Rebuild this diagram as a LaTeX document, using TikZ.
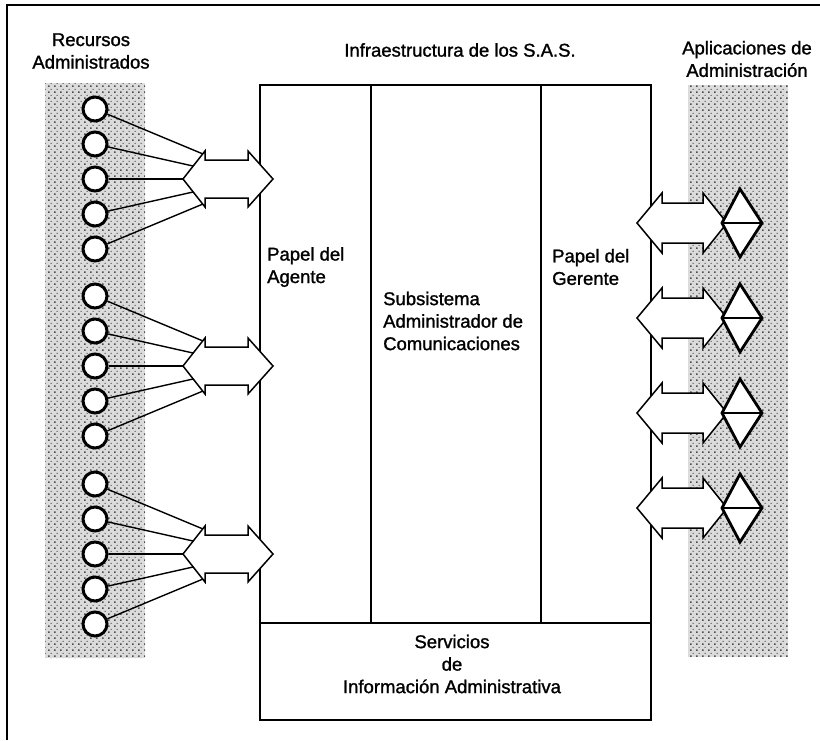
\documentclass[tikz,border=0pt]{standalone}
\usepackage{fontspec}
\setmainfont{Liberation Sans}[FakeBold=1.3]
\usetikzlibrary{patterns.meta}

% coarse dot screen used for the two shaded strips
\tikzdeclarepattern{name=scandots, type=uncolored,
  bottom left={(0pt,0pt)}, top right={(6pt,6pt)}, tile size={(6pt,6pt)},
  code={\fill (0pt,0pt) rectangle (2pt,2pt); \fill (3pt,3.5pt) rectangle (4.2pt,4.7pt);}}

\tikzset{
  frame/.style={line width=2.6pt},
  boxline/.style={line width=1.6pt},
  strip/.style={fill=black!14},
  stripdots/.style={pattern=scandots, pattern color=black!70},
  res/.style={circle, draw, fill=white, line width=3pt, minimum size=24pt, inner sep=0pt},
  link/.style={line width=1.4pt},
  arrowbox/.style={draw, fill=white, line width=1.5pt, line join=miter},
  appbox/.style={draw, fill=white, line width=2.8pt, line join=miter},
  lbl/.style={font=\fontsize{18.5}{22.5}\selectfont, inner sep=0pt},
}

% double-headed block arrow: y, left tip, left head back, right head back, right tip, head half-height, shaft half-height
\newcommand{\blockarrow}[7]{%
  \draw[arrowbox] (#2,#1) -- (#3,#1-#6) -- (#3,#1-#7) -- (#4,#1-#7) -- (#4,#1-#6)
    -- (#5,#1) -- (#4,#1+#6) -- (#4,#1+#7) -- (#3,#1+#7) -- (#3,#1+#6) -- cycle;}

% a group of five managed resources wired to the left head of one arrow
\newcommand{\resgroup}[2]{%
  \blockarrow{#2}{183}{205}{248}{273}{28}{19}
  \coordinate (#1h1) at (203,#2-25);
  \coordinate (#1h2) at (193,#2-13);
  \coordinate (#1h3) at (183,#2);
  \coordinate (#1h4) at (193,#2+13);
  \coordinate (#1h5) at (203,#2+25);
  \foreach \k/\dy in {1/-70,2/-35,3/0,4/35,5/70}{
    \node[res] (#1c\k) at (95,#2+\dy) {};
    \draw[link] (#1c\k) -- (#1h\k);
  }}

% one management application: arrow plus split diamond
\newcommand{\appunit}[2]{%
  \blockarrow{#2}{637}{662}{703}{727}{30}{20}
  \coordinate (#1l) at (722,#2);
  \coordinate (#1t) at (740,#2-34);
  \coordinate (#1r) at (762,#2);
  \coordinate (#1b) at (740,#2+34);
  \draw[appbox] (#1l) -- (#1t) -- (#1r) -- (#1b) -- cycle;
  \draw[line width=2.8pt] (#1l) -- (#1r);}

\begin{document}
\begin{tikzpicture}[x=1pt, y=-1pt]
\useasboundingbox (0,0) rectangle (820,740);

% outer frame (top and left edges)
\draw[frame] (7,740) -- (7,5) -- (820,5);

% shaded strips
\fill[strip] (45,83) rectangle (145,658);
\fill[stripdots] (45,83) rectangle (145,658);
\fill[strip] (688,85) rectangle (788,657);
\fill[stripdots] (688,85) rectangle (788,657);

% infrastructure block
\draw[boxline] (260,85) rectangle (651,720);
\draw[boxline] (260,623) -- (651,623);
\draw[boxline] (371,85) -- (371,623);
\draw[boxline] (541,85) -- (541,623);

% managed resources
\resgroup{ga}{179}
\resgroup{gb}{366}
\resgroup{gc}{554}

% management applications
\appunit{pa}{223}
\appunit{pb}{318}
\appunit{pc}{413}
\appunit{pd}{508}

% labels
\node[lbl, align=center] (tres) at (91,51) {Recursos\\Administrados};
\node[lbl] (tinf) at (460,50) {Infraestructura de los S.A.S.};
\node[lbl, align=center] (tapp) at (747,59) {Aplicaciones de\\Administración};
\node[lbl, align=left, anchor=west] (tage) at (267,267) {Papel del\\Agente};
\node[lbl, align=left, anchor=west] (tsub) at (383,321) {Subsistema\\Administrador de\\Comunicaciones};
\node[lbl, align=left, anchor=west] (tger) at (552,267) {Papel del\\Gerente};
\node[lbl, align=center] (tser) at (452,664) {Servicios\\de\\Información Administrativa};
\end{tikzpicture}
\end{document}
